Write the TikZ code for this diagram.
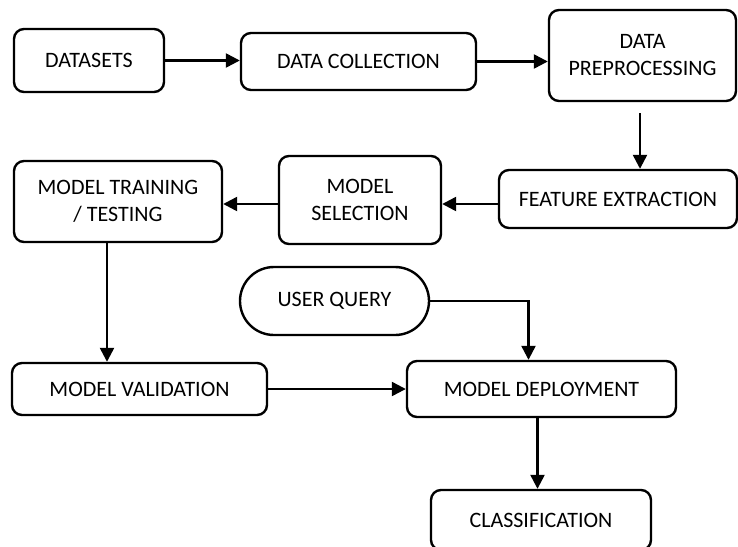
\documentclass[tikz,border=0pt]{standalone}
\usepackage{fontspec}
\setmainfont{Carlito}
\usepackage{tikz}
\usetikzlibrary{positioning, arrows.meta, shapes.misc}

\tikzset{
    stagebox/.style={draw, line width=2.4pt, rounded corners=10pt, align=center,
        font=\fontsize{22}{27}\selectfont, inner sep=2pt},
    querybox/.style={draw, line width=2.4pt, rounded rectangle, align=center,
        font=\fontsize{22}{27}\selectfont, inner sep=2pt},
    flowarrow/.style={line width=2.4pt, -{Triangle[length=14pt,width=14pt]}}
}

\begin{document}
\begin{tikzpicture}[x=1pt, y=-1pt]
        \useasboundingbox (0,0) rectangle (738,546);

        % top row
        \node[stagebox, minimum width=150pt, minimum height=63pt] (datasets) at (89,60.5) {DATASETS};
        \node[stagebox, minimum width=235pt, minimum height=57pt] (collection) at (358.5,61.5) {DATA COLLECTION};
        \node[stagebox, minimum width=187pt, minimum height=91pt] (preproc) at (642.5,55.5) {DATA\\PREPROCESSING};

        % middle row
        \node[stagebox, minimum width=238pt, minimum height=58pt] (feature) at (618,199) {FEATURE EXTRACTION};
        \node[stagebox, minimum width=162pt, minimum height=88pt] (selection) at (360,200) {MODEL\\SELECTION};
        \node[stagebox, minimum width=208pt, minimum height=81pt] (training) at (118,201.5) {MODEL TRAINING\\/ TESTING};

        % lower part
        \node[querybox, minimum width=193pt, minimum height=68pt] (query) at (334.5,301) {USER QUERY};
        \node[stagebox, minimum width=255pt, minimum height=52pt] (validation) at (139.5,389) {MODEL VALIDATION};
        \node[stagebox, minimum width=269pt, minimum height=56pt] (deployment) at (541.5,389) {MODEL DEPLOYMENT};
        \node[stagebox, minimum width=220pt, minimum height=60pt] (classif) at (541,520) {CLASSIFICATION};

        % arrows
        \draw[flowarrow] (datasets.east) -- (datasets.east -| collection.west);
        \draw[flowarrow] (collection.east) -- (collection.east -| preproc.west);
        \draw[flowarrow] ([xshift=-2.5pt,yshift=-11pt]preproc.south) -- ([xshift=-2.5pt]preproc.south |- feature.north);
        \draw[flowarrow] ([yshift=-5pt]feature.west) -- ([yshift=-5pt]feature.west -| selection.east);
        \draw[flowarrow] ([yshift=-4pt]selection.west) -- ([yshift=-4pt]selection.west -| training.east);
        \draw[flowarrow] ([xshift=-11pt]training.south) -- ([xshift=-11pt]training.south |- validation.north);
        \draw[flowarrow] (validation.east) -- (deployment.west);
        \draw[flowarrow] (query.east) -| ([xshift=-13pt]deployment.north);
        \draw[flowarrow] ([xshift=-4pt]deployment.south) -- ([xshift=-4pt]deployment.south |- classif.north);
    \end{tikzpicture}
\end{document}
